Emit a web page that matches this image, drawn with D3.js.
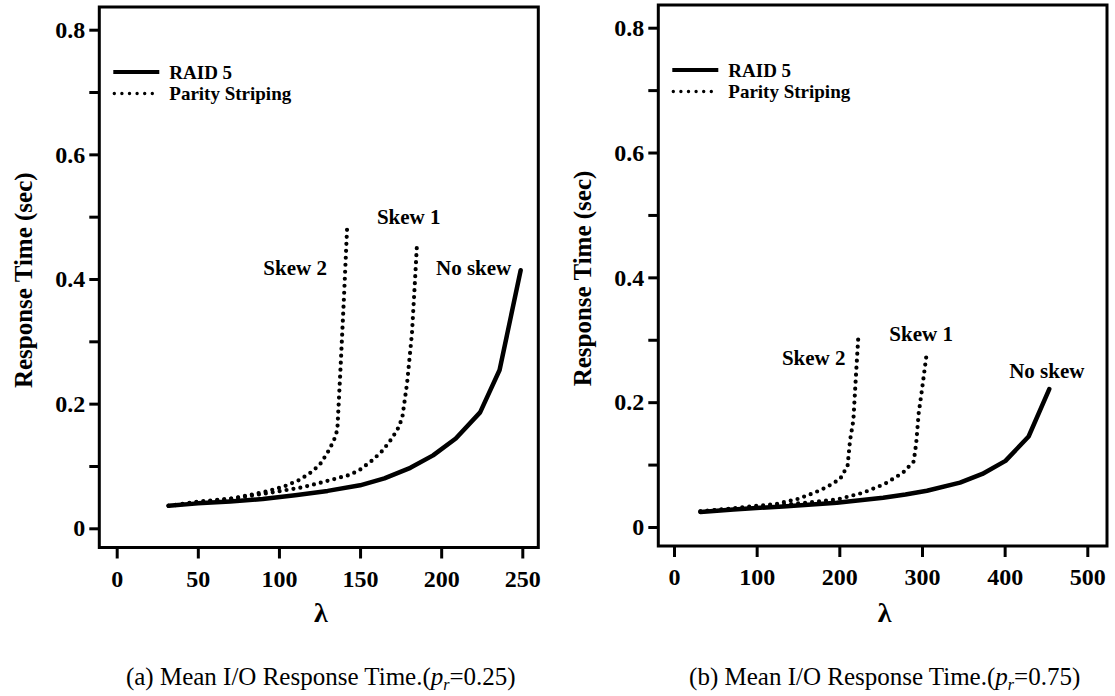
<!DOCTYPE html>
<html>
<head>
<meta charset="utf-8">
<script src="https://cdn.jsdelivr.net/npm/d3@7"></script>
<style>
  body { margin: 0; background: #fff; }
  svg text { font-family: "Liberation Serif", "Times New Roman", serif; fill: #000; }
</style>
</head>
<body>
<div id="content"></div>
<script>
(function(d3) {

   // panel (a): p_r = 0.25
   var aRaidLambda  = [32, 50, 70, 90, 110, 130, 150, 165, 181, 195, 209, 224, 236, 249];
   var aRaidResp    = [0.036, 0.040, 0.043, 0.047, 0.053, 0.060, 0.069, 0.080, 0.097, 0.117, 0.144, 0.186, 0.254, 0.414];
   var aSkew1Lambda = [32, 52, 72, 92, 113, 124, 134, 144, 150, 158, 164, 169, 173, 176, 179, 182, 184, 185];
   var aSkew1Resp   = [0.036, 0.042, 0.048, 0.056, 0.065, 0.072, 0.079, 0.086, 0.094, 0.110, 0.125, 0.142, 0.158, 0.177, 0.233, 0.313, 0.404, 0.452];
   var aSkew2Lambda = [32, 51, 72, 92, 103, 113, 121, 126, 131, 134, 136, 138, 140, 142];
   var aSkew2Resp   = [0.036, 0.043, 0.048, 0.059, 0.067, 0.078, 0.092, 0.105, 0.126, 0.142, 0.158, 0.259, 0.366, 0.481];

   // panel (b): p_r = 0.75
   var bRaidLambda  = [32, 72, 132, 197, 225, 253, 280, 306, 346, 373, 401, 429, 454];
   var bRaidResp    = [0.024, 0.028, 0.033, 0.039, 0.043, 0.047, 0.052, 0.058, 0.071, 0.085, 0.106, 0.145, 0.221];
   var bSkew1Lambda = [32, 92, 152, 197, 229, 255, 277, 290, 293, 296, 300, 306];
   var bSkew1Resp   = [0.025, 0.031, 0.038, 0.044, 0.055, 0.069, 0.087, 0.105, 0.134, 0.182, 0.220, 0.281];
   var bSkew2Lambda = [32, 72, 124, 150, 170, 185, 201, 210, 213, 217, 220, 223];
   var bSkew2Resp   = [0.025, 0.030, 0.037, 0.045, 0.055, 0.064, 0.077, 0.098, 0.139, 0.171, 0.240, 0.305];

   var yTicks = [0, 0.1, 0.2, 0.3, 0.4, 0.5, 0.6, 0.7, 0.8];
   var aXTicks = [0, 50, 100, 150, 200, 250];
   var bXTicks = [0, 100, 200, 300, 400, 500];

   var legendNames = ["RAID 5", "Parity Striping"];
   var curveNames = ["Skew 2", "Skew 1", "No skew"];
   var aLabelPos = [[110, 0.419], [180, 0.500], [220, 0.419]];
   var bLabelPos = [[169, 0.271], [299, 0.309], [451, 0.250]];

   var captionA = "(a) Mean I/O Response Time.(";
   var captionB = "(b) Mean I/O Response Time.(";
   var aPr = "=0.25)";
   var bPr = "=0.75)";

   function zip(xs, ys) {
      return xs.map(function(x, i) { return [x, ys[i]]; });
   }

   var win_width = 1115;
   var win_height = 696;

   var svg = d3.select("#content")
            .append("svg")
            .attr("width", win_width)
            .attr("height", win_height);

   function drawPanel(p) {
      var x = d3.scaleLinear().domain([0, p.xMax]).range([p.x0, p.x1]);
      var y = d3.scaleLinear().domain([0, 0.8]).range([p.y0, p.y1]);
      var g = svg.append("g");

      // frame
      g.append("rect")
         .attr("x", p.left).attr("y", p.top)
         .attr("width", p.right - p.left).attr("height", p.bottom - p.top)
         .attr("fill", "none").attr("stroke", "#000").attr("stroke-width", 3);

      // y axis ticks (labels only on every other)
      var yAxis = d3.axisLeft(y)
         .tickValues(yTicks)
         .tickSize(10)
         .tickPadding(4)
         .tickFormat(function(d, i) { return i % 2 === 0 ? d3.format("~g")(d) : ""; });
      var ya = g.append("g").attr("transform", "translate(" + p.left + ",0)").call(yAxis);
      ya.select(".domain").remove();
      ya.selectAll("line").attr("stroke-width", 3);
      ya.selectAll("text")
         .style("font-family", "Liberation Serif")
         .style("font-size", "24px").style("font-weight", "bold");

      var xAxis = d3.axisBottom(x)
         .tickValues(p.xTicks)
         .tickSize(10)
         .tickPadding(11);
      var xa = g.append("g").attr("transform", "translate(0," + (p.bottom + 1) + ")").call(xAxis);
      xa.select(".domain").remove();
      xa.selectAll("line").attr("stroke-width", 3);
      xa.selectAll("text")
         .style("font-family", "Liberation Serif")
         .style("font-size", "24px").style("font-weight", "bold");

      // axis titles
      g.append("text")
         .attr("transform", "translate(" + (p.left - 76) + "," + ((p.top + p.bottom) / 2 + 3) + ") rotate(-90)")
         .attr("text-anchor", "middle").attr("dy", "0.35em")
         .style("font-size", "25px").style("font-weight", "bold")
         .text("Response Time (sec)");

      g.append("text")
         .attr("x", (p.left + p.right) / 2 + 2).attr("y", 612)
         .attr("text-anchor", "middle").attr("dy", "0.35em")
         .style("font-size", "28px").style("font-weight", "bold")
         .text("λ");

      // curves
      var line = d3.line()
         .x(function(d) { return x(d[0]); })
         .y(function(d) { return y(d[1]); });

      g.append("path").datum(p.raid).attr("d", line)
         .attr("fill", "none").attr("stroke", "#000").attr("stroke-width", 4.5)
         .attr("stroke-linejoin", "round").attr("stroke-linecap", "round");
      [p.skew1, p.skew2].forEach(function(s) {
         g.append("path").datum(s).attr("d", line)
            .attr("fill", "none").attr("stroke", "#000").attr("stroke-width", 4.2)
            .attr("stroke-linecap", "round").attr("stroke-dasharray", "0 7");
      });

      // curve labels
      g.selectAll(".clabel").data(p.labels).enter().append("text")
         .attr("x", function(d) { return x(d[0]); })
         .attr("y", function(d) { return y(d[1]); })
         .attr("dy", "0.35em").attr("text-anchor", "middle")
         .style("font-size", "21px").style("font-weight", "bold")
         .text(function(d, i) { return curveNames[i]; });

      // legend
      var lx = p.left + 14, ly = p.top + 65;
      g.append("line").attr("x1", lx).attr("x2", lx + 46).attr("y1", ly).attr("y2", ly)
         .attr("stroke", "#000").attr("stroke-width", 4);
      g.append("line").attr("x1", lx + 1).attr("x2", lx + 46).attr("y1", ly + 21.5).attr("y2", ly + 21.5)
         .attr("stroke", "#000").attr("stroke-width", 3.4)
         .attr("stroke-linecap", "round").attr("stroke-dasharray", "0 7.6");
      g.selectAll(".leg").data(legendNames).enter().append("text")
         .attr("x", lx + 56)
         .attr("y", function(d, i) { return ly + i * 21.5; })
         .attr("dy", "0.35em")
         .style("font-size", "19px").style("font-weight", "bold")
         .text(function(d) { return d; });

      // caption
      var cap = g.append("text")
         .attr("x", (p.left + p.right) / 2 + 2).attr("y", 676)
         .attr("dy", "0.35em").attr("text-anchor", "middle")
         .style("font-size", "25px");
      cap.append("tspan").text(p.caption);
      cap.append("tspan").style("font-style", "italic").text("p");
      cap.append("tspan").attr("dy", 5).style("font-size", "16px").style("font-style", "italic").text("r");
      cap.append("tspan").attr("dy", -5).text(p.pr);
   }

   drawPanel({
      left: 99.3, right: 538.3, top: 7, bottom: 547.5,
      x0: 116.7, x1: 522.3, xMax: 250, y0: 528.3, y1: 29.7,
      xTicks: aXTicks,
      raid: zip(aRaidLambda, aRaidResp),
      skew1: zip(aSkew1Lambda, aSkew1Resp),
      skew2: zip(aSkew2Lambda, aSkew2Resp),
      labels: aLabelPos,
      caption: captionA, pr: aPr
   });

   drawPanel({
      left: 658.3, right: 1107, top: 5, bottom: 546,
      x0: 674, x1: 1087.3, xMax: 500, y0: 527, y1: 27.7,
      xTicks: bXTicks,
      raid: zip(bRaidLambda, bRaidResp),
      skew1: zip(bSkew1Lambda, bSkew1Resp),
      skew2: zip(bSkew2Lambda, bSkew2Resp),
      labels: bLabelPos,
      caption: captionB, pr: bPr
   });

})(window.d3);
</script>
</body>
</html>
